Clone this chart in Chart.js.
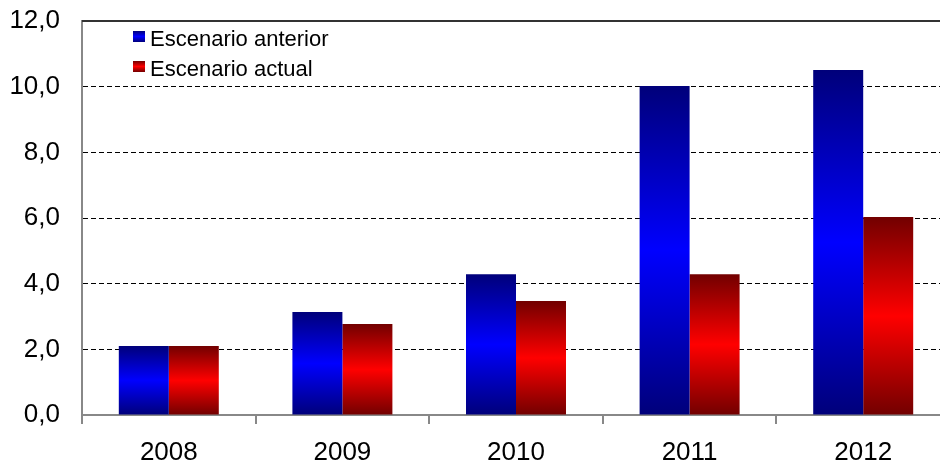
<!DOCTYPE html>
<html>
<head>
<meta charset="utf-8">
<script src="https://cdn.jsdelivr.net/npm/chart.js@4/dist/chart.umd.min.js"></script>
<style>
    html, body { margin: 0; padding: 0; background: #fff; overflow: hidden; }
    #wrap { width: 952px; height: 467px; }
</style>
</head>
<body>
<div id="wrap"><canvas id="chart" width="952" height="467"></canvas></div>
<script>
const years = ['2008', '2009', '2010', '2011', '2012'];
const seriesNames = ['Escenario anterior', 'Escenario actual'];
const anterior = [2.1, 3.14, 4.29, 10.02, 10.51];
const actual = [2.1, 2.77, 3.47, 4.29, 6.03];
const yTicks = [0, 2, 4, 6, 8, 10, 12];

// dark edge / bright middle, like the original bars
const palettes = [
    { edge: '#00007a', mid: '#0000ff' },
    { edge: '#720000', mid: '#ff0000' }
];

function barGradient(context, pal) {
    const chart = context.chart;
    if (!chart.chartArea || !chart.scales.y) return pal.mid;
    const y = chart.scales.y;
    const top = y.getPixelForValue(context.raw);
    const bottom = y.getPixelForValue(0);
    const g = chart.ctx.createLinearGradient(0, top, 0, bottom);
    g.addColorStop(0, pal.edge);
    g.addColorStop(0.5, pal.mid);
    g.addColorStop(1, pal.edge);
    return g;
}

const frameAndLegend = {
    id: 'frameAndLegend',
    afterDraw(chart) {
        const ctx = chart.ctx;
        const area = chart.chartArea;
        ctx.save();
        // top frame line
        ctx.strokeStyle = '#333';
        ctx.lineWidth = 2;
        ctx.beginPath();
        ctx.moveTo(area.left, area.top);
        ctx.lineTo(area.right, area.top);
        ctx.stroke();

        // legend inside the plot
        ctx.font = '22px "Liberation Sans", Arial, sans-serif';
        ctx.textBaseline = 'alphabetic';
        seriesNames.forEach((name, i) => {
            const base = 46 + i * 30;
            const pal = palettes[i];
            const g = ctx.createLinearGradient(0, base - 15, 0, base - 4);
            g.addColorStop(0, pal.edge);
            g.addColorStop(0.5, pal.mid);
            g.addColorStop(1, pal.edge);
            ctx.fillStyle = g;
            ctx.fillRect(133, base - 15, 12, 11);
            ctx.fillStyle = '#000';
            ctx.fillText(name, 150, base);
        });
        ctx.restore();
    }
};

new Chart(document.getElementById('chart'), {
    type: 'bar',
    data: {
        labels: years,
        datasets: [{
            label: seriesNames[0],
            data: anterior,
            backgroundColor: c => barGradient(c, palettes[0]),
            barPercentage: 1,
            categoryPercentage: 0.576
        }, {
            label: seriesNames[1],
            data: actual,
            backgroundColor: c => barGradient(c, palettes[1]),
            barPercentage: 1,
            categoryPercentage: 0.576
        }]
    },
    options: {
        responsive: false,
        animation: false,
        layout: { padding: { top: 21, right: 2, left: 0, bottom: 0 } },
        plugins: {
            legend: { display: false },
            tooltip: { enabled: false }
        },
        scales: {
            x: {
                grid: {
                    drawOnChartArea: false,
                    drawTicks: true,
                    tickLength: 9,
                    color: '#888',
                    lineWidth: 2
                },
                border: { color: '#888', width: 2 },
                ticks: {
                    color: '#000',
                    padding: 13,
                    font: { family: '"Liberation Sans", Arial, sans-serif', size: 26 }
                },
                afterFit(scale) { scale.height = 52; }
            },
            y: {
                min: 0,
                max: 12,
                afterBuildTicks(scale) {
                    scale.ticks = yTicks.map(v => ({ value: v }));
                },
                grid: {
                    drawTicks: true,
                    tickLength: 22,
                    tickColor: 'rgba(0,0,0,0)',
                    lineWidth: 1,
                    color: c => (c.tick && (c.tick.value === 0 || c.tick.value === 12)) ? 'rgba(0,0,0,0)' : '#000'
                },
                border: { color: '#888', width: 2, dash: [5, 3] },
                ticks: {
                    color: '#000',
                    padding: 0,
                    font: { family: '"Liberation Sans", Arial, sans-serif', size: 26 },
                    callback: v => v.toFixed(1).replace('.', ',')
                },
                afterFit(scale) { scale.width = 82; }
            }
        }
    },
    plugins: [frameAndLegend]
});
</script>
</body>
</html>
